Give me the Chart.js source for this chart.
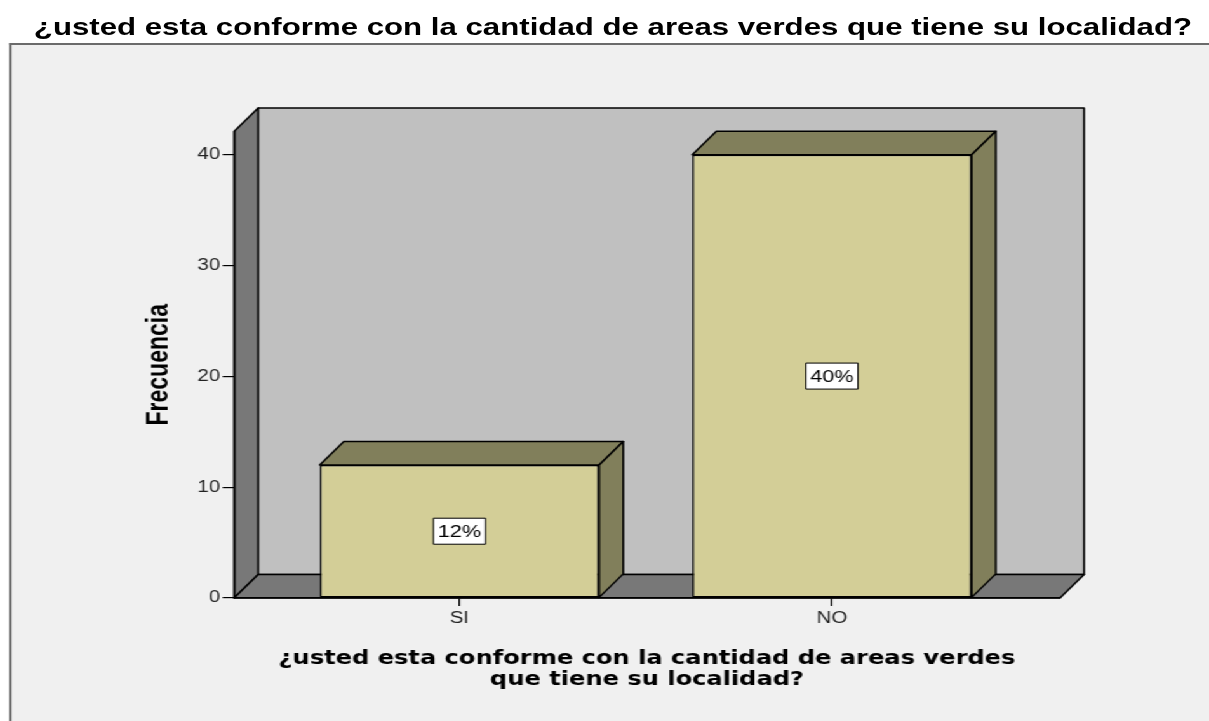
<!DOCTYPE html>
<html lang="es">
<head>
<meta charset="utf-8">
<title>Frecuencia</title>
<script src="https://cdn.jsdelivr.net/npm/chart.js@4.4.1/dist/chart.umd.min.js"></script>
<style>
  html, body { margin: 0; padding: 0; background: #fff; overflow: hidden; }
  /* la imagen original está estirada en horizontal */
  #pagina { position: absolute; left: 0; top: 0; width: 952px; height: 721px; transform: scaleX(1.27); transform-origin: 0 0; }
  #marco { position: absolute; left: 7px; top: 43px; width: 960px; height: 678px; background: #f0f0f0; border-left: 2px solid #6b6b6b; border-top: 2px solid #6b6b6b; }
  #titulo { position: absolute; left: 0; top: 13px; width: 943px; text-align: center; font: bold 24px "Liberation Sans", Arial, sans-serif; line-height: 28px; color: #000; white-space: nowrap; transform: scaleX(1.3); transform-origin: 0 0; }
  canvas { display: block; }
</style>
</head>
<body>
<div id="pagina">
  <div id="marco"><canvas id="grafico" width="943" height="676"></canvas></div>
</div>
<div id="titulo">¿usted esta conforme con la cantidad de areas verdes que tiene su localidad?</div>
<script>
// Datos
const categorias = ['SI', 'NO'];
const frecuencias = [12, 40];
const porcentajes = ['12%', '40%'];
const ticksY = [0, 10, 20, 30, 40];
const ejeYMax = 42.1;

// Profundidad del efecto 3D
const dx = 19, dy = -23.5;

function poligono(ctx, pts, relleno) {
    ctx.beginPath();
    ctx.moveTo(pts[0][0], pts[0][1]);
    for (let i = 1; i < pts.length; i++) ctx.lineTo(pts[i][0], pts[i][1]);
    ctx.closePath();
    ctx.fillStyle = relleno;
    ctx.fill();
    ctx.stroke();
}

// Paredes, suelo y caras laterales de las barras
const cubo3d = {
    id: 'cubo3d',
    beforeDraw(chart) {
        const { ctx, chartArea: a } = chart;
        ctx.save();
        ctx.lineWidth = 1.5;
        ctx.strokeStyle = '#000';
        ctx.lineJoin = 'round';
        poligono(ctx, [[a.left + dx, a.top + dy], [a.right + dx, a.top + dy], [a.right + dx, a.bottom + dy], [a.left + dx, a.bottom + dy]], '#c0c0c0');
        poligono(ctx, [[a.left, a.top], [a.left + dx, a.top + dy], [a.left + dx, a.bottom + dy], [a.left, a.bottom]], '#787878');
        poligono(ctx, [[a.left, a.bottom], [a.left + dx, a.bottom + dy], [a.right + dx, a.bottom + dy], [a.right, a.bottom]], '#787878');
        ctx.restore();
    },
    afterDatasetsDraw(chart) {
        const ctx = chart.ctx;
        const meta = chart.getDatasetMeta(0);
        ctx.save();
        ctx.strokeStyle = '#000';
        ctx.lineJoin = 'round';
        meta.data.forEach((bar, i) => {
            const { x, y, base, width } = bar.getProps(['x', 'y', 'base', 'width'], true);
            const L = x - width / 2, R = x + width / 2;
            ctx.lineWidth = 1.5;
            poligono(ctx, [[L, y], [L + dx, y + dy], [R + dx, y + dy], [R, y]], '#817f5b');
            poligono(ctx, [[R, y], [R + dx, y + dy], [R + dx, base + dy], [R, base]], '#817f5b');

            // etiqueta con el porcentaje
            ctx.font = '17px "Liberation Sans", Arial, sans-serif';
            const txt = porcentajes[i];
            const w = ctx.measureText(txt).width + 7;
            const h = 26;
            const cy = (y + base) / 2;
            ctx.lineWidth = 1;
            ctx.fillStyle = '#fff';
            ctx.fillRect(x - w / 2, cy - h / 2, w, h);
            ctx.strokeRect(x - w / 2, cy - h / 2, w, h);
            ctx.fillStyle = '#000';
            ctx.textAlign = 'center';
            ctx.textBaseline = 'middle';
            ctx.fillText(txt, x, cy + 1);
        });
        ctx.restore();
    }
};

Chart.defaults.font.family = '"Liberation Sans", Arial, sans-serif';

new Chart(document.getElementById('grafico'), {
    type: 'bar',
    data: {
        datasets: [{
            label: 'Frecuencia',
            data: categorias.map((c, i) => ({ x: i, y: frecuencias[i] })),
            backgroundColor: '#d3ce97',
            borderColor: '#000',
            borderWidth: 1.5,
            borderSkipped: false,
            barPercentage: 0.75,
            categoryPercentage: 1
        }]
    },
    options: {
        responsive: false,
        animation: false,
        layout: { padding: { top: 86.5, right: 117.4, bottom: 0, left: 0 } },
        plugins: {
            legend: { display: false },
            tooltip: { enabled: false }
        },
        scales: {
            x: {
                type: 'linear',
                min: -0.605,
                max: 1.612,
                offset: false,
                afterBuildTicks: s => { s.ticks = categorias.map((c, i) => ({ value: i })); },
                afterFit: s => { s.height = 123; },
                ticks: {
                    callback: v => categorias[v],
                    color: '#222',
                    font: { size: 16 },
                    padding: 3,
                    maxRotation: 0,
                    autoSkip: false
                },
                grid: { offset: false, drawOnChartArea: false, tickLength: 8, color: '#000', lineWidth: 1.2 },
                border: { color: '#000', width: 1.5 },
                title: {
                    display: true,
                    text: ['¿usted esta conforme con la cantidad de areas verdes', 'que tiene su localidad?'],
                    color: '#000',
                    font: { family: '"DejaVu Sans", Verdana, sans-serif', size: 19, weight: 'bold', lineHeight: '21px' },
                    padding: { bottom: 30 }
                }
            },
            y: {
                min: 0,
                max: ejeYMax,
                afterBuildTicks: s => { s.ticks = ticksY.map(v => ({ value: v })); },
                afterFit: s => { s.width = 175.3; },
                ticks: { color: '#222', font: { size: 16 }, padding: 2 },
                grid: { drawOnChartArea: false, tickLength: 9, color: '#000', lineWidth: 1.2 },
                border: { color: '#000', width: 1.5 },
                title: {
                    display: true,
                    text: 'Frecuencia',
                    color: '#000',
                    font: { size: 23, weight: 'bold' },
                    padding: { top: 103.2 }
                }
            }
        }
    },
    plugins: [cubo3d]
});
</script>
</body>
</html>
